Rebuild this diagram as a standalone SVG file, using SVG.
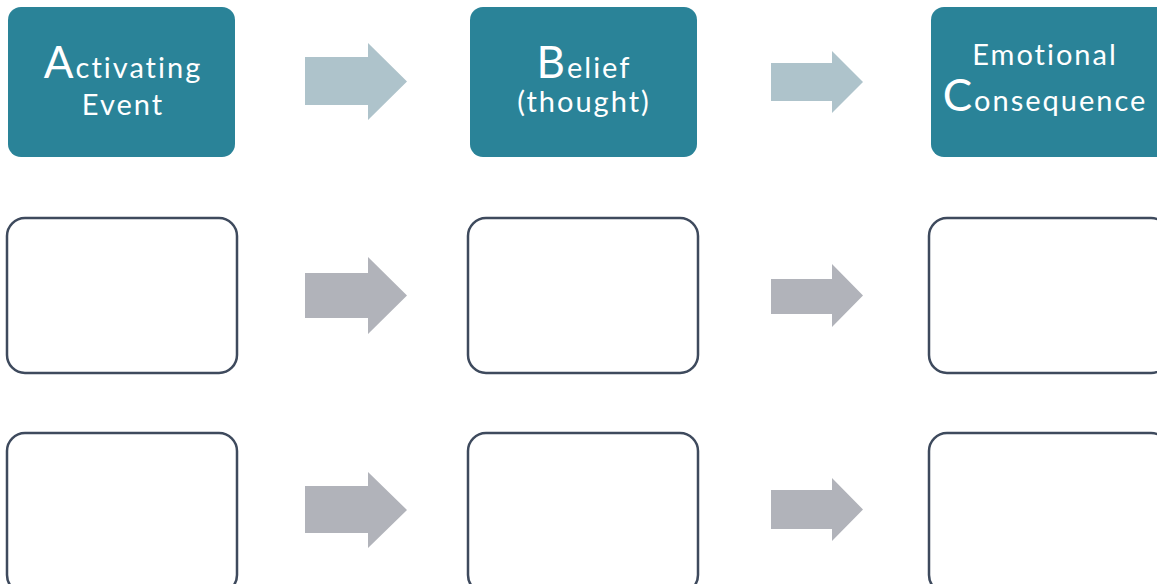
<svg xmlns="http://www.w3.org/2000/svg" width="1157" height="584" viewBox="0 0 1157 584">
<style>
.head{fill:#2a8398;}
.box{fill:#ffffff;stroke:#3e4a5d;stroke-width:2.5;}
.t{font-family:Lato,"Open Sans","Liberation Sans",sans-serif;font-weight:400;font-size:29px;letter-spacing:2px;font-variant-ligatures:none;fill:#ffffff;text-anchor:middle;}
.big{font-size:44px;}
.a1{fill:#aec3cb;}
.a2{fill:#b1b3ba;}
</style>
<rect width="1157" height="584" fill="#ffffff"/>
<g id="node-activating">
<rect class="head" x="8" y="7" width="227" height="150" rx="13"/>
<text class="t" x="123" y="78"><tspan class="big">A</tspan>ctivating</text>
<text class="t" x="123" y="115">Event</text>
</g>
<g id="node-belief">
<rect class="head" x="470" y="7" width="227" height="150" rx="13"/>
<text class="t" x="584" y="78"><tspan class="big">B</tspan>elief</text>
<text class="t" x="584" y="112">(thought)</text>
</g>
<g id="node-consequence">
<rect class="head" x="931" y="7" width="240" height="150" rx="13"/>
<text class="t" x="1045" y="65">Emotional</text>
<text class="t" x="1045" y="111"><tspan class="big">C</tspan>onsequence</text>
</g>
<g id="node-r2c1"><rect class="box" x="7" y="218" width="230" height="155" rx="18"/></g>
<g id="node-r2c2"><rect class="box" x="468" y="218" width="230" height="155" rx="18"/></g>
<g id="node-r2c3"><rect class="box" x="929" y="218" width="240" height="155" rx="18"/></g>
<g id="node-r3c1"><rect class="box" x="7" y="433" width="230" height="160" rx="18"/></g>
<g id="node-r3c2"><rect class="box" x="468" y="433" width="230" height="160" rx="18"/></g>
<g id="node-r3c3"><rect class="box" x="929" y="433" width="240" height="160" rx="18"/></g>
<g id="connectors">
<polygon class="a1" points="305,57 368,57 368,43 407,81.5 368,120 368,105 305,105"/>
<polygon class="a1" points="771,63 832,63 832,51 863,82 832,113 832,101 771,101"/>
<polygon class="a2" points="305,273 368,273 368,257 407,295.5 368,334 368,318 305,318"/>
<polygon class="a2" points="771,279 832,279 832,264 863,295.5 832,327 832,314 771,314"/>
<polygon class="a2" points="305,486 368,486 368,472 407,510 368,548 368,533 305,533"/>
<polygon class="a2" points="771,490 832,490 832,478 863,509.5 832,541 832,529 771,529"/>
</g>
</svg>
